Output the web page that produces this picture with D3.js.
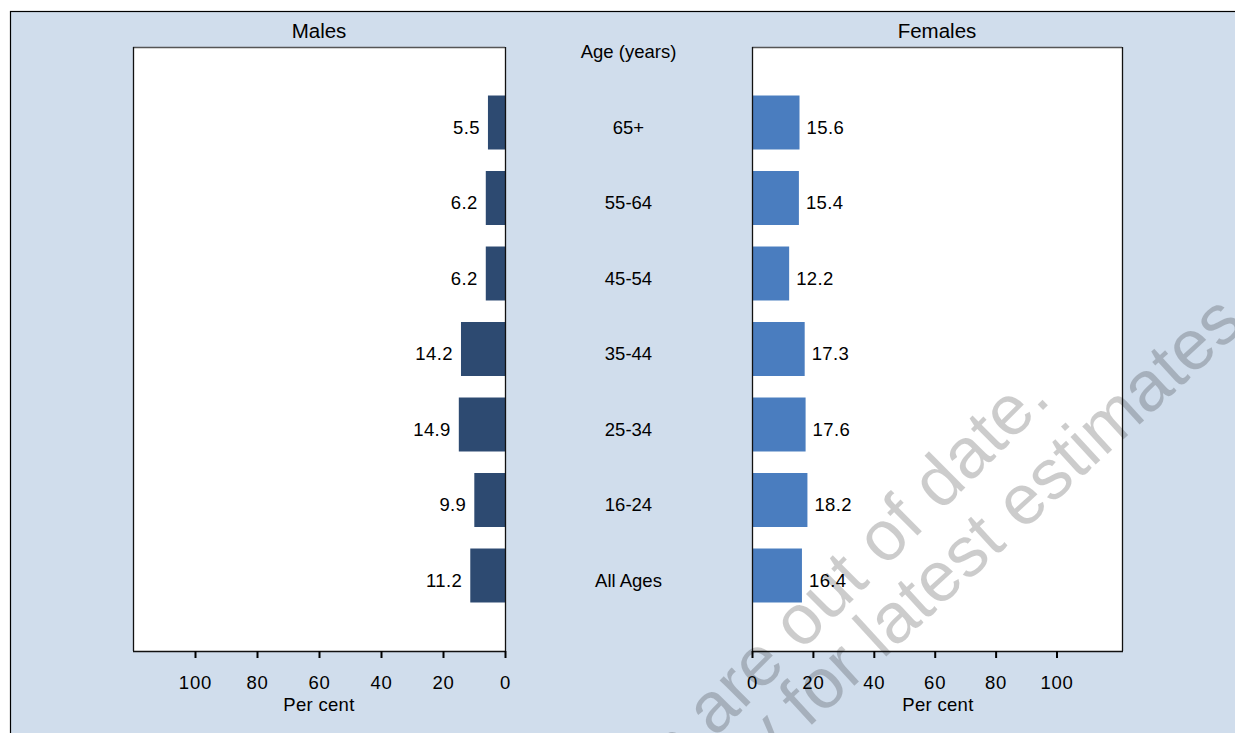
<!DOCTYPE html>
<html>
<head>
<meta charset="utf-8">
<script src="https://cdn.jsdelivr.net/npm/d3@7"></script>
<style>
  html, body { margin: 0; padding: 0; background: #ffffff; }
  svg { display: block; font-family: "Liberation Sans", Arial, Helvetica, sans-serif; }
</style>
</head>
<body>
<svg id="chart" width="1235" height="733"></svg>
<script>
// Age groups, top to bottom
const ageGroups = ["65+", "55-64", "45-54", "35-44", "25-34", "16-24", "All Ages"];
// Per cent values by sex
const malesValues   = [5.5, 6.2, 6.2, 14.2, 14.9, 9.9, 11.2];
const femalesValues = [15.6, 15.4, 12.2, 17.3, 17.6, 18.2, 16.4];
// Axis ticks
const tickValues = [0, 20, 40, 60, 80, 100];

const svg = d3.select("#chart");
const W = 1235, H = 733;

const bg = "#d0ddec";
const maleColor = "#2d4a71";
const femaleColor = "#4a7dbf";
const labelSize = 18.5;

// Outer frame
svg.append("rect").attr("x", 10.5).attr("y", 11.5).attr("width", W).attr("height", H)
  .attr("fill", bg).attr("stroke", "#000").attr("stroke-width", 1.2);

const plotTop = 47, plotBottom = 651;
const leftPanel = { x0: 133, x1: 505 };
const rightPanel = { x0: 752, x1: 1122 };

const y = d3.scalePoint().domain(ageGroups).range([plotTop, plotBottom]).padding(1);
const barH = y.step() * 0.715;

const xL = d3.scaleLinear().domain([0, 120]).range([leftPanel.x1, leftPanel.x0]);
const xR = d3.scaleLinear().domain([0, 121.5]).range([rightPanel.x0, rightPanel.x1]);

// Panel backgrounds
[leftPanel, rightPanel].forEach(p => {
  svg.append("rect").attr("x", p.x0).attr("y", plotTop)
    .attr("width", p.x1 - p.x0).attr("height", plotBottom - plotTop)
    .attr("fill", "#ffffff");
});

// Bars
const males = ageGroups.map((g, i) => ({ g, v: malesValues[i] }));
const females = ageGroups.map((g, i) => ({ g, v: femalesValues[i] }));

svg.append("g").selectAll("rect").data(males).join("rect")
  .attr("x", d => xL(d.v)).attr("width", d => xL(0) - xL(d.v))
  .attr("y", d => y(d.g) - barH / 2).attr("height", barH)
  .attr("fill", maleColor);

svg.append("g").selectAll("rect").data(females).join("rect")
  .attr("x", xR(0)).attr("width", d => xR(d.v) - xR(0))
  .attr("y", d => y(d.g) - barH / 2).attr("height", barH)
  .attr("fill", femaleColor);

// Value labels
svg.append("g").selectAll("text").data(males).join("text")
  .attr("x", d => xL(d.v) - 8).attr("y", d => y(d.g) + 11)
  .attr("text-anchor", "end").attr("font-size", labelSize).attr("letter-spacing", 0.4)
  .attr("fill", "#000")
  .text(d => d.v.toFixed(1));

svg.append("g").selectAll("text").data(females).join("text")
  .attr("x", d => xR(d.v) + 7).attr("y", d => y(d.g) + 11)
  .attr("text-anchor", "start").attr("font-size", labelSize).attr("letter-spacing", 0.4)
  .attr("fill", "#000")
  .text(d => d.v.toFixed(1));

// Panel frames
[leftPanel, rightPanel].forEach(p => {
  svg.append("line").attr("x1", p.x0).attr("x2", p.x1).attr("y1", plotTop + 0.5).attr("y2", plotTop + 0.5)
    .attr("stroke", "#555").attr("stroke-width", 1.3);
  svg.append("line").attr("x1", p.x0 + 0.5).attr("x2", p.x0 + 0.5).attr("y1", plotTop).attr("y2", plotBottom)
    .attr("stroke", "#111").attr("stroke-width", 1.3);
  svg.append("line").attr("x1", p.x1 + 0.5).attr("x2", p.x1 + 0.5).attr("y1", plotTop).attr("y2", plotBottom)
    .attr("stroke", "#111").attr("stroke-width", 1.3);
});

// Bottom axes
function styleAxis(g) {
  g.select(".domain").attr("stroke", "#111").attr("stroke-width", 1.3);
  g.selectAll(".tick line").attr("stroke", "#000").attr("stroke-width", 2);
  g.selectAll(".tick text").attr("font-size", labelSize).attr("fill", "#000")
    .attr("letter-spacing", 0.8)
    .attr("font-family", "Liberation Sans, Arial, sans-serif").attr("dy", "0.9em");
}
const axisL = d3.axisBottom(xL).tickValues(tickValues).tickSizeInner(7).tickSizeOuter(0).tickPadding(14);
const axisR = d3.axisBottom(xR).tickValues(tickValues).tickSizeInner(7).tickSizeOuter(0).tickPadding(14);
svg.append("g").attr("transform", `translate(0,${plotBottom})`).call(axisL).call(styleAxis)
  .select(".domain").attr("d", `M${leftPanel.x0},0.5H${leftPanel.x1 + 1}`);
svg.append("g").attr("transform", `translate(0,${plotBottom})`).call(axisR).call(styleAxis)
  .select(".domain").attr("d", `M${rightPanel.x0},0.5H${rightPanel.x1 + 1}`);

// Axis titles
svg.append("text").attr("x", 319).attr("y", 711)
  .attr("text-anchor", "middle").attr("font-size", labelSize).attr("letter-spacing", 0.3).text("Per cent");
svg.append("text").attr("x", 938).attr("y", 711)
  .attr("text-anchor", "middle").attr("font-size", labelSize).attr("letter-spacing", 0.3).text("Per cent");

// Panel titles
svg.append("text").attr("x", (leftPanel.x0 + leftPanel.x1) / 2).attr("y", 38)
  .attr("text-anchor", "middle").attr("font-size", 20.5).text("Males");
svg.append("text").attr("x", (rightPanel.x0 + rightPanel.x1) / 2).attr("y", 38)
  .attr("text-anchor", "middle").attr("font-size", 20.5).text("Females");

// Age group labels in the middle
const midX = (leftPanel.x1 + rightPanel.x0) / 2;
svg.append("text").attr("x", midX).attr("y", 58)
  .attr("text-anchor", "middle").attr("font-size", labelSize).text("Age (years)");
svg.append("g").selectAll("text").data(ageGroups).join("text")
  .attr("x", midX).attr("y", d => y(d) + 11)
  .attr("text-anchor", "middle").attr("font-size", labelSize).attr("fill", "#000")
  .text(d => d);

// Watermark
const wm = svg.append("g").attr("fill", "#000").attr("fill-opacity", 0.2)
  .attr("font-size", 71).attr("text-anchor", "end");
wm.append("text").attr("transform", "translate(1052.5,400.5) rotate(-45)")
  .text("These statistics are out of date.");
wm.append("text").attr("transform", "translate(1246.5,326.5) rotate(-42.5)")
  .text("Please see the summary for latest estimates");
</script>
</body>
</html>
